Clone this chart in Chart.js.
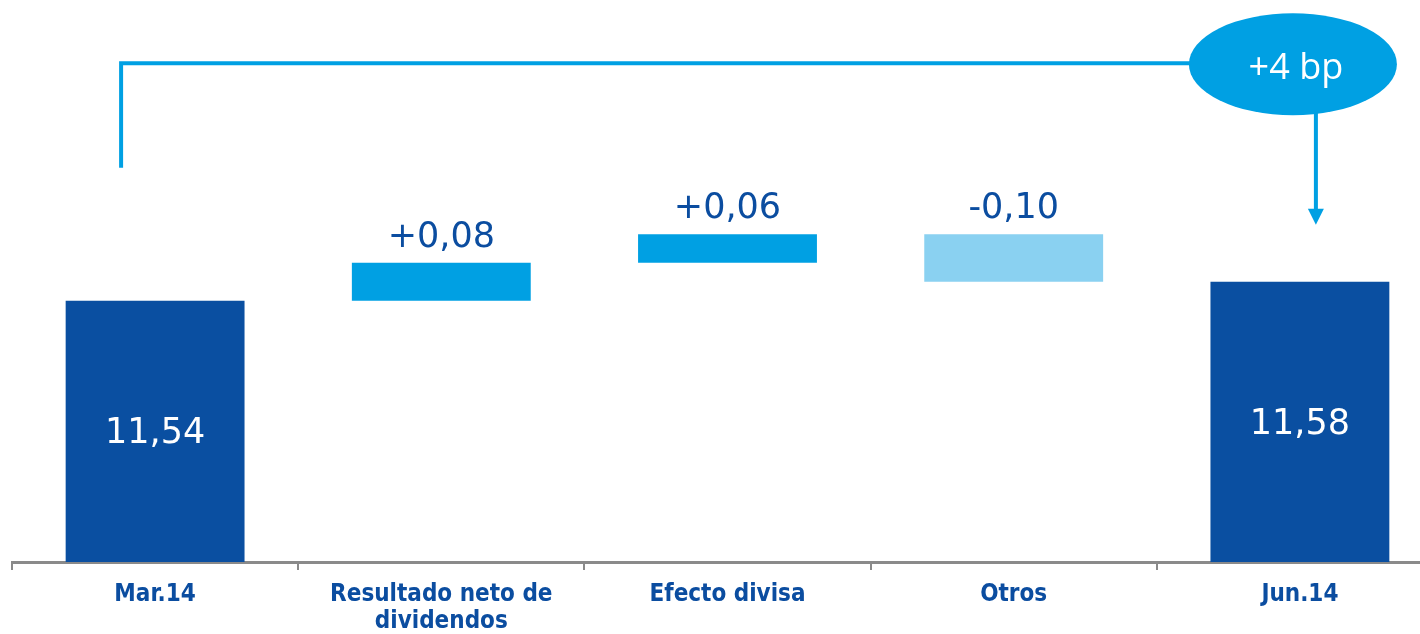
<!DOCTYPE html>
<html lang="es">
<head>
<meta charset="utf-8">
<title>Evolución Mar.14 - Jun.14</title>
<script src="https://cdn.jsdelivr.net/npm/chart.js@4.4.1/dist/chart.umd.min.js"></script>
<style>
    html, body { margin: 0; padding: 0; background: #fff; overflow: hidden; }
    #contenedor { width: 1443px; height: 634px; }
</style>
</head>
<body>
<div id="contenedor"><canvas id="grafico" width="1443" height="634"></canvas></div>
<script>
const categorias = ['Mar.14', ['Resultado neto de', 'dividendos'], 'Efecto divisa', 'Otros', 'Jun.14'];
const valorInicial = 11.54;
const variaciones = [0.08, 0.06, -0.10];
const valorFinal = 11.58;

const ejeMin = 10.99;
const ejeMax = 11.99;

const azulOscuro = '#0a4fa1';
const azulMedio = '#00a0e3';
const azulClaro = '#8ad1f1';
const azulTexto = '#0b4da0';

// tramos flotantes de la cascada: [desde, hasta]
const tramos = [[ejeMin, valorInicial]];
let acumulado = valorInicial;
variaciones.forEach(v => {
    tramos.push([acumulado, acumulado + v]);
    acumulado += v;
});
tramos.push([ejeMin, valorFinal]);

const colores = tramos.map((t, i) => {
    if (i === 0 || i === tramos.length - 1) return azulOscuro;
    return variaciones[i - 1] >= 0 ? azulMedio : azulClaro;
});

const formato = v => v.toFixed(2).replace('.', ',');
const conSigno = v => (v > 0 ? '+' : '') + formato(v);
const textoBp = '+' + Math.round((valorFinal - valorInicial) * 100) + ' bp';

const etiquetas = {
    id: 'etiquetas',
    afterDatasetsDraw(chart) {
        const { ctx } = chart;
        const barras = chart.getDatasetMeta(0).data;
        ctx.save();
        ctx.textAlign = 'center';
        ctx.font = '35px "DejaVu Sans", Verdana, sans-serif';
        barras.forEach((barra, i) => {
            if (i === 0 || i === barras.length - 1) {
                ctx.fillStyle = '#ffffff';
                ctx.textBaseline = 'middle';
                ctx.fillText(formato(tramos[i][1]), barra.x, (barra.y + barra.base) / 2 + 3);
            } else {
                ctx.fillStyle = azulTexto;
                ctx.textBaseline = 'alphabetic';
                ctx.fillText(conSigno(variaciones[i - 1]), barra.x, Math.min(barra.y, barra.base) - 16);
            }
        });
        ctx.restore();
    }
};

// corchete superior con la variación total en bp
const corchete = {
    id: 'corchete',
    afterDraw(chart) {
        const { ctx } = chart;
        const y = chart.scales.y;
        const barras = chart.getDatasetMeta(0).data;
        const primera = barras[0];
        const ultima = barras[barras.length - 1];

        const xIzq = primera.x - 34;
        const yArriba = y.getPixelForValue(12.04);
        const yPie = y.getPixelForValue(11.82);
        const xElipse = ultima.x - 7;
        const xFlecha = ultima.x + 16;
        const yPunta = y.getPixelForValue(11.70);

        ctx.save();
        ctx.strokeStyle = azulMedio;
        ctx.fillStyle = azulMedio;
        ctx.lineWidth = 4;
        ctx.lineJoin = 'miter';

        ctx.beginPath();
        ctx.moveTo(xIzq, yPie);
        ctx.lineTo(xIzq, yArriba);
        ctx.lineTo(xElipse, yArriba);
        ctx.stroke();

        ctx.beginPath();
        ctx.moveTo(xFlecha, yArriba);
        ctx.lineTo(xFlecha, yPunta - 14);
        ctx.stroke();

        ctx.beginPath();
        ctx.moveTo(xFlecha - 8, yPunta - 16);
        ctx.lineTo(xFlecha + 8, yPunta - 16);
        ctx.lineTo(xFlecha, yPunta);
        ctx.closePath();
        ctx.fill();

        ctx.beginPath();
        ctx.ellipse(xElipse, yArriba + 1, 104, 51, 0, 0, Math.PI * 2);
        ctx.fill();

        ctx.fillStyle = '#ffffff';
        ctx.font = '36px "Open Sans", "Noto Sans", sans-serif';
        ctx.textAlign = 'center';
        ctx.textBaseline = 'middle';
        ctx.fillText(textoBp, xElipse + 3, yArriba + 5);
        ctx.restore();
    }
};

const ctx = document.getElementById('grafico').getContext('2d');

new Chart(ctx, {
    type: 'bar',
    data: {
        labels: categorias,
        datasets: [{
            data: tramos,
            backgroundColor: colores,
            borderWidth: 0,
            categoryPercentage: 1,
            barPercentage: 0.625
        }]
    },
    options: {
        responsive: false,
        animation: false,
        layout: { padding: { top: 87, left: 12, right: 0, bottom: 0 } },
        plugins: {
            legend: { display: false },
            tooltip: { enabled: false }
        },
        scales: {
            x: {
                afterFit: (scale) => { scale.height = 72; },
                grid: {
                    drawOnChartArea: false,
                    drawTicks: true,
                    tickLength: 8,
                    color: '#8a8a8a',
                    lineWidth: 2,
                    offset: true
                },
                border: { display: true, color: '#8a8a8a', width: 3 },
                ticks: {
                    color: azulTexto,
                    padding: 12,
                    maxRotation: 0,
                    font: {
                        family: '"DejaVu Sans Condensed", "Liberation Sans Narrow", sans-serif',
                        size: 24,
                        weight: 'bold',
                        lineHeight: 1.1
                    }
                }
            },
            y: {
                display: false,
                min: ejeMin,
                max: ejeMax
            }
        }
    },
    plugins: [etiquetas, corchete]
});
</script>
</body>
</html>
